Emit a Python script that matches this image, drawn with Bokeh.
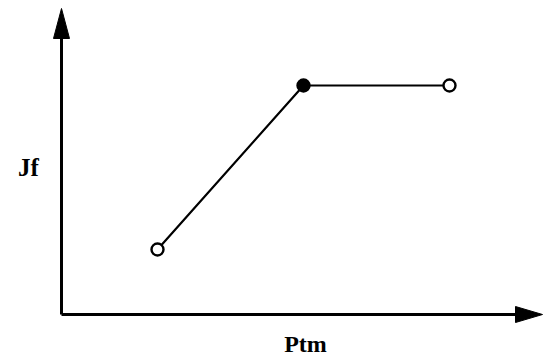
from bokeh.plotting import figure
from bokeh.models import Range1d, Label, ColumnDataSource
from bokeh.embed import file_html
from bokeh.resources import INLINE

# --- data (schematic values) ---
ptm = [1, 2, 3]
jf = [1, 2, 2]
fills = ["white", "black", "white"]
x_label = "Ptm"
y_label = "Jf"

W, H = 544, 355
# layout: pixel positions of data values inside the canvas
X0_PX, DX_PX = 157, 146     # x=1 at 157 px, 146 px per unit
Y0_PX, DY_PX = 249, 164     # y=1 at 249 px (from top), 164 px per unit

x_start = 1 - X0_PX / DX_PX
x_end = 1 + (W - X0_PX) / DX_PX
y_end = 1 + Y0_PX / DY_PX
y_start = 1 - (H - Y0_PX) / DY_PX

def px_to_x(px):
    return 1 + (px - X0_PX) / DX_PX

def px_to_y(py):
    return 1 - (py - Y0_PX) / DY_PX

p = figure(width=W, height=H, output_backend="svg", toolbar_location=None,
           x_range=Range1d(x_start, x_end), y_range=Range1d(y_start, y_end),
           min_border=0, outline_line_color=None)
p.axis.visible = False
p.grid.visible = False
p.background_fill_color = "white"
p.border_fill_color = "white"

# axis lines with arrow heads
AX, AY = 61, 314
ox, oy = px_to_x(AX), px_to_y(AY)
p.line([ox, ox], [oy, px_to_y(36)], line_color="black", line_width=3)
p.line([ox, px_to_x(517)], [oy, oy], line_color="black", line_width=3)
p.patch([ox, px_to_x(AX - 8), px_to_x(AX + 8)],
        [px_to_y(8), px_to_y(38), px_to_y(38)], fill_color="black", line_color="black")
p.patch([px_to_x(542), px_to_x(515), px_to_x(515)],
        [oy, px_to_y(AY - 8), px_to_y(AY + 8)], fill_color="black", line_color="black")

src = ColumnDataSource(dict(x=ptm, y=jf, f=fills))
p.line("x", "y", source=src, line_color="black", line_width=2.2)
p.scatter("x", "y", source=src, size=12, fill_color="f", line_color="black", line_width=2.4)

p.add_layout(Label(x=28, y=355 - 167, x_units="screen", y_units="screen", text=y_label,
                   text_font="Liberation Serif", text_font_style="bold", text_color="black",
                   text_font_size="25px", text_align="center", text_baseline="alphabetic"))
p.add_layout(Label(x=305, y=355 - 343, x_units="screen", y_units="screen", text=x_label,
                   text_font="Liberation Serif", text_font_style="bold", text_color="black",
                   text_font_size="24px", text_align="center", text_baseline="alphabetic"))

open("out.html", "w").write(file_html(p, INLINE))
